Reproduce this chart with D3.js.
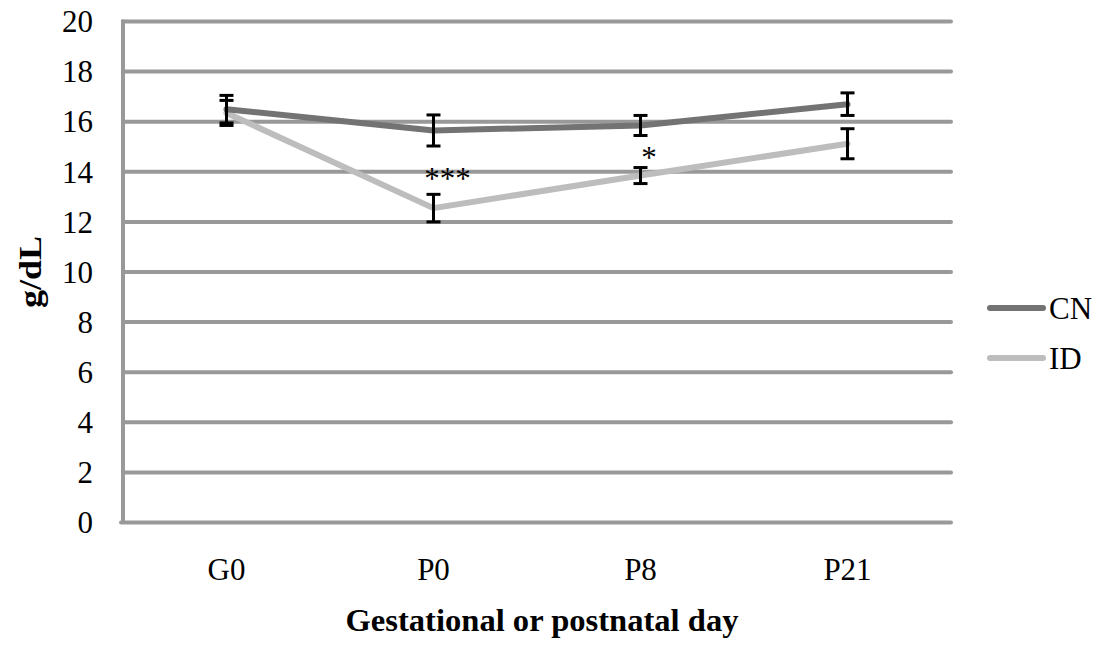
<!DOCTYPE html>
<html><head><meta charset="utf-8">
<script src="https://cdn.jsdelivr.net/npm/d3@7"></script>
<style>body{margin:0;background:#fff;} svg{display:block;}</style>
</head><body>
<svg id="chart" width="1096" height="649"></svg>
<script>
const categories = ["G0", "P0", "P8", "P21"];
const cnValues = [16.5, 15.65, 15.85, 16.7];
const cnErrors = [0.55, 0.62, 0.4, 0.45];
const idValues = [16.35, 12.55, 13.85, 15.12];
const idErrors = [0.5, 0.55, 0.32, 0.6];
const yTicks = [0, 2, 4, 6, 8, 10, 12, 14, 16, 18, 20];
const seriesNames = ["CN", "ID"];
const significance = [{cat: "P0", label: "***", value: 13.33}, {cat: "P8", label: "*", value: 14.15}];

(function () {
const svg = d3.select("#chart");
const mLeft = 123, mRight = 951, mTop = 21.5, mBottom = 522.5;
const x = d3.scaleBand().domain(categories).range([mLeft, mRight]);
const y = d3.scaleLinear().domain([0, 20]).range([mBottom, mTop]);
const cx = c => x(c) + x.bandwidth() / 2;
const gridColor = "#999999";
const font = "'Liberation Serif', 'Times New Roman', serif";
const fs = 31;

svg.append("g").selectAll("line").data(yTicks.filter(d => d > 0)).join("line")
  .attr("x1", mLeft).attr("x2", mRight)
  .attr("y1", d => y(d)).attr("y2", d => y(d))
  .attr("stroke", gridColor).attr("stroke-width", 4).attr("stroke-linecap", "round");
svg.append("line").attr("x1", mLeft).attr("x2", mLeft).attr("y1", mTop - 2).attr("y2", mBottom)
  .attr("stroke", gridColor).attr("stroke-width", 4);
svg.append("line").attr("x1", mLeft - 2).attr("x2", mRight).attr("y1", mBottom).attr("y2", mBottom)
  .attr("stroke", gridColor).attr("stroke-width", 4).attr("stroke-linecap", "round");

const yAxis = d3.axisLeft(y).tickValues(yTicks).tickSize(0).tickPadding(30);
const ya = svg.append("g").attr("transform", `translate(${mLeft},0)`).call(yAxis);
ya.select(".domain").remove();
ya.selectAll("text").attr("font-family", font).attr("font-size", fs).attr("fill", "#000").attr("dy", "0.33em");

const xAxis = d3.axisBottom(x).tickSize(0).tickPadding(0);
const xa = svg.append("g").attr("transform", `translate(0,${mBottom})`).call(xAxis);
xa.select(".domain").remove();
xa.selectAll("text").attr("font-family", font).attr("font-size", fs).attr("fill", "#000")
  .attr("dy", null).attr("y", 57);

const line = d3.line().x((d, i) => cx(categories[i])).y(d => y(d));
svg.append("path").datum(idValues).attr("d", line).attr("fill", "none")
  .attr("stroke", "#bdbdbd").attr("stroke-width", 6).attr("stroke-linecap", "round").attr("stroke-linejoin", "round");
svg.append("path").datum(cnValues).attr("d", line).attr("fill", "none")
  .attr("stroke", "#737373").attr("stroke-width", 6).attr("stroke-linecap", "round").attr("stroke-linejoin", "round");

function errBars(vals, errs) {
  const g = svg.append("g").attr("stroke", "#000");
  vals.forEach((v, i) => {
    const px = cx(categories[i]);
    const y1 = y(v + errs[i]), y2 = y(v - errs[i]);
    g.append("line").attr("x1", px).attr("x2", px).attr("y1", y1).attr("y2", y2).attr("stroke-width", 3);
    [y1, y2].forEach(yy => g.append("line").attr("x1", px - 7).attr("x2", px + 7)
      .attr("y1", yy).attr("y2", yy).attr("stroke-width", 3));
  });
}
errBars(cnValues, cnErrors);
errBars(idValues, idErrors);

significance.forEach(s => {
  svg.append("text").attr("x", cx(s.cat) + (s.label.length > 1 ? 14 : 8.5)).attr("y", y(s.value))
    .attr("text-anchor", "middle").attr("font-family", font).attr("font-size", fs).attr("fill", "#000")
    .text(s.label);
});

const legColors = ["#737373", "#bdbdbd"];
seriesNames.forEach((n, i) => {
  const ly = 308 + i * 50;
  svg.append("line").attr("x1", 990).attr("x2", 1043).attr("y1", ly).attr("y2", ly)
    .attr("stroke", legColors[i]).attr("stroke-width", 6).attr("stroke-linecap", "round");
  svg.append("text").attr("x", 1049).attr("y", ly + 11).attr("font-family", font).attr("font-size", fs)
    .attr("fill", "#000").text(n);
});

svg.append("text").attr("transform", "translate(41,272) rotate(-90)").attr("text-anchor", "middle")
  .attr("font-family", font).attr("font-weight", "bold").attr("font-size", 31).attr("fill", "#000")
  .attr("textLength", 72).attr("lengthAdjust", "spacingAndGlyphs").text("g/dL");
svg.append("text").attr("x", 542).attr("y", 631).attr("text-anchor", "middle")
  .attr("font-family", font).attr("font-weight", "bold").attr("font-size", 31).attr("fill", "#000")
  .attr("textLength", 393).attr("lengthAdjust", "spacingAndGlyphs")
  .text("Gestational or postnatal day");
})();
</script>
</body></html>
